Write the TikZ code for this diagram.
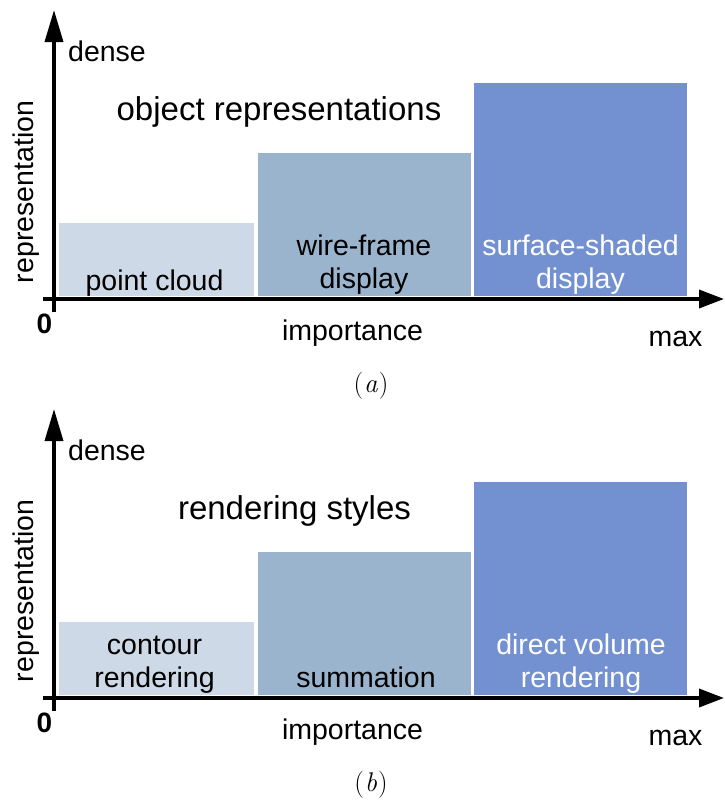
\documentclass[tikz,border=0pt]{standalone}
\usepackage{fontspec}
\setmainfont{Liberation Sans}
\newfontfamily\lmrfont{Latin Modern Roman}
\usetikzlibrary{arrows.meta}
\definecolor{barA}{HTML}{CDD9E6}
\definecolor{barB}{HTML}{9BB4CE}
\definecolor{barC}{HTML}{7391D1}
\tikzset{
  lbl/.style={font=\fontsize{28.5}{33}\selectfont, inner sep=0pt, anchor=base},
  ttl/.style={font=\fontsize{33}{38}\selectfont, inner sep=0pt, anchor=base},
  wlbl/.style={lbl, text=white},
  zero/.style={font=\fontsize{28}{32}\selectfont\bfseries, inner sep=0pt, anchor=base},
  capt/.style={font=\lmrfont\fontsize{27}{32}\selectfont, inner sep=0pt, anchor=base},
  bar/.style={draw=none, inner sep=0pt, anchor=south west},
  axis/.style={line width=3.5pt},
  yax/.style={axis, -{Triangle[length=32pt,width=18pt]}},
  xax/.style={axis, -{Triangle[length=25pt,width=18pt]}},
}
\begin{document}
\begin{tikzpicture}[x=1pt,y=-1pt]
\useasboundingbox (0,0) rectangle (725,801);
% ---------------- panel (a) ----------------
\node[bar, fill=barA, minimum width=195pt, minimum height=73pt] (a1) at (59,296) {};
\node[bar, fill=barB, minimum width=213pt, minimum height=143pt] (a2) at (258,296) {};
\node[bar, fill=barC, minimum width=213pt, minimum height=213pt] (a3) at (474,296) {};
\coordinate (ayb) at (54,312);
\coordinate (ayt) at (54,10);
\coordinate (axl) at (43,299);
\coordinate (axr) at (724,299);
\draw[yax] (ayb) -- (ayt);
\draw[xax] (axl) -- (axr);
\node[lbl, anchor=base west] (adense) at (68,61) {dense};
\node[lbl, rotate=90] (arep) at (34,192) {representation};
\node[ttl] (atitle) at (279,120) {object representations};
\node[lbl] (apc) at (154.5,290) {point cloud};
\node[lbl] (awf1) at (364,255) {wire-frame};
\node[lbl] (awf2) at (364,288) {display};
\node[wlbl] (ass1) at (580.5,255) {surface-shaded};
\node[wlbl] (ass2) at (580.5,288) {display};
\node[lbl] (aimp) at (352.5,340) {importance};
\node[lbl] (amax) at (675.5,346) {max};
\node[zero] (azero) at (44.5,333) {0};
\node[capt] (acap) at (371,392) {(\kern1pt\textit{a}\kern1pt)};
% ---------------- panel (b) ----------------
\node[bar, fill=barA, minimum width=195pt, minimum height=73pt] (b1) at (59,695) {};
\node[bar, fill=barB, minimum width=213pt, minimum height=143pt] (b2) at (258,695) {};
\node[bar, fill=barC, minimum width=213pt, minimum height=213pt] (b3) at (474,695) {};
\coordinate (byb) at (54,711);
\coordinate (byt) at (54,409);
\coordinate (bxl) at (43,698);
\coordinate (bxr) at (724,698);
\draw[yax] (byb) -- (byt);
\draw[xax] (bxl) -- (bxr);
\node[lbl, anchor=base west] (bdense) at (68,460) {dense};
\node[lbl, rotate=90] (brep) at (34,591) {representation};
\node[ttl] (btitle) at (294.5,519) {rendering styles};
\node[lbl] (bco1) at (154.5,654) {contour};
\node[lbl] (bco2) at (154.5,687) {rendering};
\node[lbl] (bsum) at (366,687) {summation};
\node[wlbl] (bdv1) at (581,654) {direct volume};
\node[wlbl] (bdv2) at (581,687) {rendering};
\node[lbl] (bimp) at (352.5,739) {importance};
\node[lbl] (bmax) at (675.5,745) {max};
\node[zero] (bzero) at (44.5,732) {0};
\node[capt] (bcap) at (371,791) {(\kern1pt\textit{b}\kern1pt)};
\end{tikzpicture}
\end{document}
